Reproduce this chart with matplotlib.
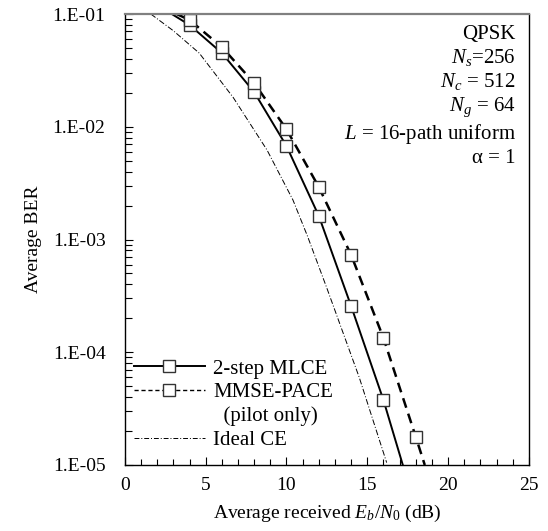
import numpy as np
import matplotlib
matplotlib.use('Agg')
import matplotlib.pyplot as plt
from matplotlib.lines import Line2D
from matplotlib.ticker import FixedLocator, FuncFormatter, MultipleLocator, LogLocator

plt.rcParams['font.family'] = ['Liberation Serif', 'DejaVu Serif']
plt.rcParams['mathtext.fontset'] = 'custom'
plt.rcParams['mathtext.rm'] = 'Liberation Serif'
plt.rcParams['mathtext.it'] = 'Liberation Serif:italic'
plt.rcParams['font.size'] = 14

# 2-step MLCE (solid): curve and markers
mlce_x = [2.9, 4, 6, 8, 10, 12, 14, 16, 17.2]
mlce_ber = [1.0e-1, 7.99e-2, 4.51e-2, 2.03e-2, 6.75e-3, 1.62e-3, 2.57e-4, 3.77e-5, 1.0e-5]
mlce_mx = [4, 6, 8, 10, 12, 14, 16]
mlce_mber = [7.99e-2, 4.51e-2, 2.03e-2, 6.75e-3, 1.62e-3, 2.57e-4, 3.77e-5]

# MMSE-PACE (pilot only) (dashed)
mmse_x = [3.2, 4, 6, 8, 10, 12, 14, 16, 18, 18.56]
mmse_ber = [1.0e-1, 8.85e-2, 5.09e-2, 2.44e-2, 9.5e-3, 2.92e-3, 7.3e-4, 1.34e-4, 1.78e-5, 1.0e-5]
mmse_mx = [4, 6, 8, 10, 12, 14, 16, 18]
mmse_mber = [8.85e-2, 5.09e-2, 2.44e-2, 9.5e-3, 2.92e-3, 7.3e-4, 1.34e-4, 1.78e-5]

# Ideal CE (dash-dot)
ideal_x = [1.6, 3.0, 4.6, 6.7, 8.8, 10.4, 11.3, 12.5, 14.5, 16.2]
ideal_ber = [1.0e-1, 7.1e-2, 4.5e-2, 1.82e-2, 6.2e-3, 2.24e-3, 1.07e-3, 3.7e-4, 6.0e-5, 1.05e-5]

xticks = [0, 5, 10, 15, 20, 25]
yticks = [1e-5, 1e-4, 1e-3, 1e-2, 1e-1]

fig = plt.figure(figsize=(5.48, 5.31), dpi=100)
ax = fig.add_axes([0.228, 0.1243, 0.737, 0.8493])

ax.semilogy(ideal_x, ideal_ber, color='k', lw=0.7, linestyle=(0, (6, 2, 1, 2)))
ax.semilogy(mlce_x, mlce_ber, color='k', lw=1.4, linestyle='-')
ax.semilogy(mmse_x, mmse_ber, color='k', lw=1.8, linestyle=(0, (4, 2.5)))
mk = dict(marker='s', markersize=8, markerfacecolor='white', markeredgecolor='#333333',
          markeredgewidth=1.0, linestyle='none')
ax.semilogy(mlce_mx, mlce_mber, **mk)
ax.semilogy(mmse_mx, mmse_mber, **mk)

ax.set_xlim(0, 25)
ax.set_ylim(1e-5, 1e-1)
ax.xaxis.set_major_locator(FixedLocator(xticks))
ax.xaxis.set_minor_locator(MultipleLocator(1))
ax.yaxis.set_major_locator(FixedLocator(yticks))
ax.yaxis.set_minor_locator(LogLocator(base=10, subs=np.arange(2, 10)))
ax.yaxis.set_major_formatter(FuncFormatter(lambda v, p: '1.E-%02d' % round(-np.log10(v))))
ax.yaxis.set_minor_formatter(FuncFormatter(lambda v, p: ''))
ax.tick_params(which='both', direction='in', top=False, right=False, width=0.8)
ax.tick_params(axis='x', which='major', length=6, pad=9)
ax.tick_params(axis='x', which='minor', length=4)
ax.tick_params(axis='y', which='major', length=6, pad=14)
ax.tick_params(axis='y', which='minor', length=5)

ax.spines['top'].set_color('#808080')
ax.spines['top'].set_linewidth(1.6)
for s in ['left', 'bottom', 'right']:
    ax.spines[s].set_linewidth(1.0)

ax.set_xlabel('Average received $E_b/N_0$ (dB)', labelpad=6)
ax.set_ylabel('Average BER', labelpad=8)

info = 'QPSK\n$N_s$=256\n$N_c$ = 512\n$N_g$ = 64\n$L$ = 16-path uniform\n\u03b1 = 1'
ax.text(0.968, 0.976, info, transform=ax.transAxes, ha='right', va='top',
        multialignment='right', linespacing=1.2, fontsize=15)

h1 = Line2D([], [], color='k', lw=1.4, marker='s', markersize=9, markerfacecolor='white',
            markeredgecolor='#333333')
h2 = Line2D([], [], color='k', lw=1.0, linestyle=(0, (3, 2)), marker='s', markersize=9,
            markerfacecolor='white', markeredgecolor='#333333')
h3 = Line2D([], [], linestyle='none')
h4 = Line2D([], [], color='k', lw=0.7, linestyle=(0, (5, 2, 1, 2)))
ax.legend([h1, h2, h3, h4], ['2-step MLCE', 'MMSE-PACE', '  (pilot only)', 'Ideal CE'],
          loc='lower left', bbox_to_anchor=(0.022, 0.033), frameon=False, fontsize=15,
          borderpad=0, borderaxespad=0, handlelength=3.4, handletextpad=0.42,
          labelspacing=0.2)

fig.savefig('out.png', dpi=100)
